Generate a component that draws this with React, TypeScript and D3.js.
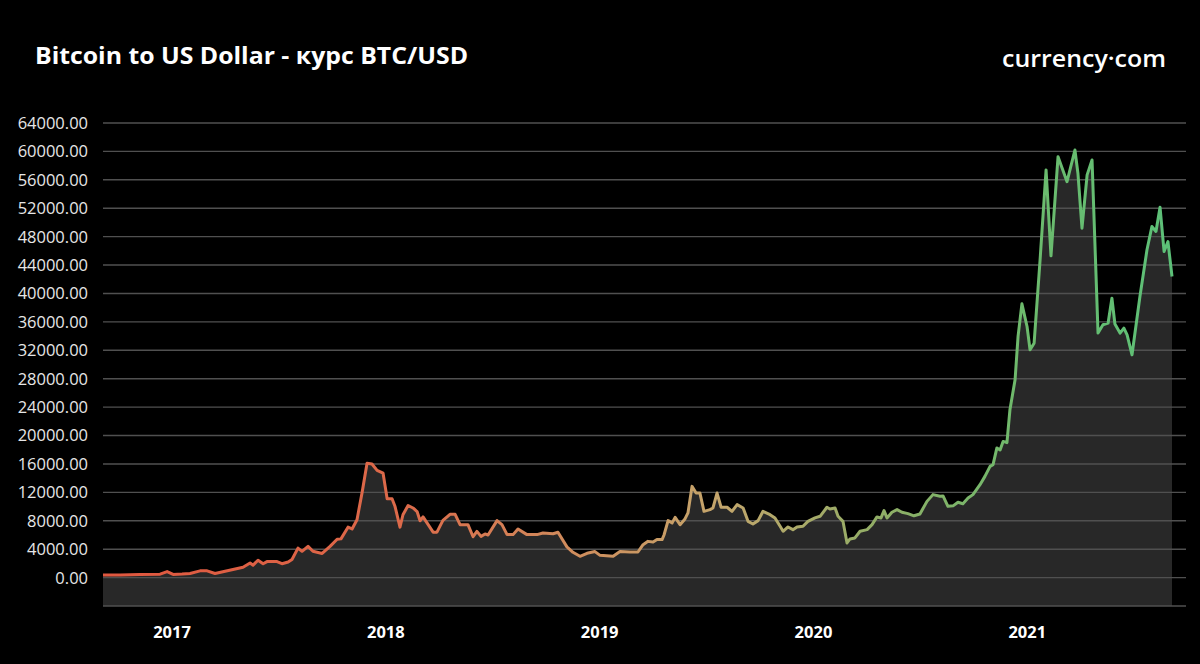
import React, { useEffect } from "react";
import * as d3 from "d3";

const title = "Bitcoin to US Dollar - курс BTC/USD";
const brand = "currency·com";

// time as decimal year
const times = [
  2016.677, 2016.757, 2016.85, 2016.944, 2016.977, 2017.005, 2017.047, 2017.084, 2017.131, 2017.164,
  2017.201, 2017.248, 2017.285, 2017.332, 2017.365, 2017.379, 2017.402, 2017.426, 2017.444, 2017.491,
  2017.514, 2017.543, 2017.561, 2017.589, 2017.608, 2017.636, 2017.659, 2017.702, 2017.739, 2017.772,
  2017.79, 2017.823, 2017.842, 2017.865, 2017.889, 2017.912, 2017.935, 2017.959, 2017.987, 2018.006,
  2018.029, 2018.043, 2018.066, 2018.08, 2018.104, 2018.127, 2018.146, 2018.16, 2018.174, 2018.221,
  2018.239, 2018.267, 2018.3, 2018.324, 2018.347, 2018.384, 2018.408, 2018.426, 2018.445, 2018.464,
  2018.478, 2018.52, 2018.543, 2018.567, 2018.595, 2018.618, 2018.66, 2018.707, 2018.735, 2018.782,
  2018.805, 2018.847, 2018.875, 2018.908, 2018.941, 2018.978, 2019.002, 2019.063, 2019.095, 2019.142,
  2019.179, 2019.203, 2019.226, 2019.25, 2019.268, 2019.292, 2019.301, 2019.32, 2019.339, 2019.353,
  2019.376, 2019.399, 2019.413, 2019.432, 2019.451, 2019.469, 2019.488, 2019.516, 2019.53, 2019.549,
  2019.568, 2019.596, 2019.619, 2019.643, 2019.671, 2019.694, 2019.717, 2019.741, 2019.764, 2019.797,
  2019.82, 2019.844, 2019.858, 2019.881, 2019.904, 2019.923, 2019.951, 2019.974, 2020.007, 2020.031,
  2020.063, 2020.077, 2020.101, 2020.115, 2020.138, 2020.157, 2020.171, 2020.194, 2020.218, 2020.251,
  2020.274, 2020.297, 2020.316, 2020.33, 2020.344, 2020.367, 2020.391, 2020.414, 2020.442, 2020.47,
  2020.498, 2020.531, 2020.559, 2020.592, 2020.606, 2020.629, 2020.653, 2020.676, 2020.699, 2020.723,
  2020.746, 2020.779, 2020.802, 2020.826, 2020.84, 2020.858, 2020.873, 2020.887, 2020.905, 2020.919,
  2020.943, 2020.957, 2020.975, 2020.999, 2021.013, 2021.032, 2021.06, 2021.088, 2021.111, 2021.144,
  2021.186, 2021.223, 2021.237, 2021.256, 2021.28, 2021.303, 2021.331, 2021.354, 2021.378, 2021.396,
  2021.41, 2021.434, 2021.452, 2021.467, 2021.49, 2021.527, 2021.56, 2021.583, 2021.602, 2021.621,
  2021.64, 2021.658, 2021.677,
];

const prices = [
  350, 380, 420, 480, 850, 450, 500, 580, 950, 950,
  580, 900, 1150, 1450, 2050, 1750, 2450, 1950, 2250, 2250,
  1950, 2200, 2550, 4150, 3700, 4400, 3700, 3400, 4400, 5400,
  5450, 7100, 6850, 8150, 12000, 16100, 16000, 15100, 14700, 11100,
  11100, 10000, 7100, 8850, 10150, 9800, 9300, 8000, 8550, 6400,
  6400, 8050, 8900, 8900, 7450, 7450, 5750, 6500, 5800, 6150,
  6000, 8020, 7450, 6050, 6050, 6850, 6050, 6050, 6280, 6180,
  6380, 4320, 3560, 3000, 3420, 3660, 3130, 3000, 3660, 3600,
  3600, 4640, 5100, 5000, 5350, 5350, 6000, 8020, 7700, 8480,
  7450, 8260, 9100, 12840, 11900, 11900, 9330, 9570, 9800, 11900,
  9900, 9900, 9330, 10270, 9800, 7920, 7550, 8020, 9330, 8860,
  8400, 7220, 6520, 7130, 6750, 7130, 7220, 7920, 8400, 8630,
  9900, 9650, 9800, 8630, 7920, 4880, 5440, 5580, 6520, 6750,
  7450, 8540, 8400, 9430, 8400, 9200, 9570, 9200, 9000, 8700,
  8960, 10730, 11680, 11450, 11500, 10030, 10100, 10600, 10400, 11200,
  11680, 13080, 14250, 15660, 15900, 18250, 17960, 19170, 19000, 23630,
  27850, 33950, 38540, 35350, 32070, 33000, 44730, 57390, 45300, 59260,
  55740, 60200, 56930, 49190, 56700, 58800, 34420, 35590, 35820, 39340,
  35700, 34420, 35120, 34180, 31370, 39570, 46150, 49430, 48730, 52150,
  45900, 47310, 42390,
];

const yTicks = d3.range(-4000, 64001, 4000);
const yLabelTicks = d3.range(0, 64001, 4000);
const yearLabels = [2017, 2018, 2019, 2020, 2021];

const gradientStops = [
  { offset: "0%", color: "#e0573f" },
  { offset: "28%", color: "#dc6a4a" },
  { offset: "45%", color: "#cf8f5e" },
  { offset: "58%", color: "#c3a66c" },
  { offset: "72%", color: "#92ad66" },
  { offset: "86%", color: "#6dba6c" },
  { offset: "100%", color: "#5cc078" },
];

const W = 1200;
const H = 664;

export default function App() {
  useEffect(() => {
    document.body.style.margin = "0";
    document.body.style.background = "#000";
  }, []);

  const data = times.map((t, i) => ({ t, v: prices[i] }));
  const x = d3.scaleLinear().domain(d3.extent(times) as [number, number]).range([103, 1172]);
  const y = d3.scaleLinear().domain([-4000, 64000]).range([606, 123]);

  const line = d3
    .line<{ t: number; v: number }>()
    .x((d) => x(d.t))
    .y((d) => y(d.v));
  const area = d3
    .area<{ t: number; v: number }>()
    .x((d) => x(d.t))
    .y0(y(-4000))
    .y1((d) => y(d.v));

  const font = "'Open Sans', 'Noto Sans', sans-serif";

  return (
    <svg width={W} height={H} style={{ display: "block", background: "#000" }}>
      <defs>
        <linearGradient id="lineGrad" gradientUnits="userSpaceOnUse" x1={103} x2={1172} y1={0} y2={0}>
          {gradientStops.map((s) => (
            <stop key={s.offset} offset={s.offset} stopColor={s.color} />
          ))}
        </linearGradient>
      </defs>
      <rect width={W} height={H} fill="#000" />
      <text
        x={35}
        y={64}
        fill="#fff"
        fontFamily={font}
        fontWeight={700}
        fontSize={23}
        textLength={433}
        lengthAdjust="spacingAndGlyphs"
      >
        {title}
      </text>
      <text
        x={1002}
        y={67}
        fill="#fff"
        fontFamily={font}
        fontWeight={600}
        fontSize={22.5}
        textLength={164}
        lengthAdjust="spacingAndGlyphs"
      >
        {brand}
      </text>
      <path d={area(data) || ""} fill="#282828" />
      {yTicks.map((t) => (
        <line key={t} x1={103} x2={1186} y1={y(t)} y2={y(t)} stroke="#505050" strokeWidth={1.4} />
      ))}
      {yLabelTicks.map((t) => (
        <text
          key={t}
          x={88}
          y={y(t)}
          dy="0.36em"
          textAnchor="end"
          fill="#e6e6e6"
          fontFamily={font}
          fontSize={16.5}
        >
          {d3.format(".2f")(t)}
        </text>
      ))}
      <path d={line(data) || ""} fill="none" stroke="url(#lineGrad)" strokeWidth={3} strokeLinejoin="round" />
      {yearLabels.map((yr) => (
        <text
          key={yr}
          x={x(yr)}
          y={638}
          textAnchor="middle"
          fill="#fff"
          fontFamily={font}
          fontWeight={700}
          fontSize={16.5}
        >
          {yr}
        </text>
      ))}
    </svg>
  );
}
